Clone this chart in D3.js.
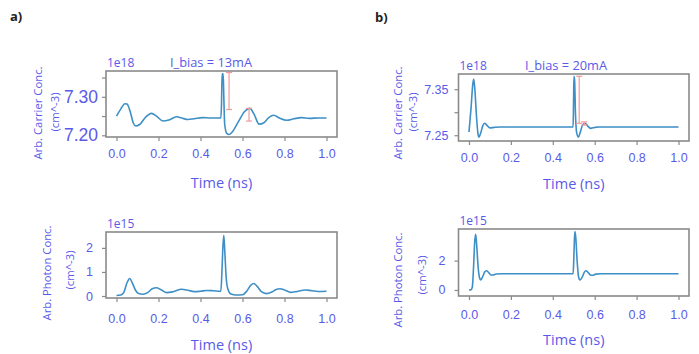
<!DOCTYPE html>
<html><head><meta charset="utf-8">
<script src="https://cdn.jsdelivr.net/npm/d3@7"></script>
<style>
body{margin:0;background:#fff;}
svg{display:block;font-family:"Open Sans",sans-serif;}
</style></head>
<body><svg id="c" width="699" height="354"></svg>
<script>
// ---- data ----
const timeTicks = [0, 0.2, 0.4, 0.6, 0.8, 1.0];
const carrier13Ticks = [7.20, 7.25, 7.30, 7.35];
const carrier13Labels = ["7.20", "", "7.30", ""];
const photon13Ticks = [0, 1, 2];
const carrier20Ticks = [7.25, 7.30, 7.35];
const carrier20Labels = ["7.25", "", "7.35"];
const photon20Ticks = [0, 2];

const carrier13 = [[0,7.250],[0.02,7.268],[0.04,7.282],[0.05,7.281],[0.065,7.262],[0.08,7.232],[0.092,7.224],[0.11,7.228],[0.14,7.248],[0.167,7.257],[0.19,7.250],[0.222,7.237],[0.25,7.240],[0.286,7.248],[0.31,7.245],[0.34,7.241],[0.37,7.243],[0.41,7.246],[0.45,7.245],[0.497,7.245],[0.5,7.28],[0.503,7.36],[0.508,7.36],[0.511,7.30],[0.515,7.23],[0.525,7.205],[0.536,7.202],[0.55,7.208],[0.58,7.235],[0.61,7.262],[0.635,7.270],[0.655,7.255],[0.679,7.229],[0.7,7.232],[0.725,7.246],[0.749,7.252],[0.775,7.245],[0.81,7.239],[0.845,7.243],[0.88,7.246],[0.92,7.244],[0.96,7.245],[1.0,7.245]];
const photon13 = [[0,0.02],[0.02,0.04],[0.035,0.15],[0.05,0.55],[0.063,0.73],[0.075,0.55],[0.09,0.25],[0.105,0.1],[0.127,0.07],[0.15,0.15],[0.17,0.3],[0.19,0.34],[0.21,0.27],[0.24,0.14],[0.27,0.18],[0.31,0.28],[0.34,0.24],[0.37,0.18],[0.4,0.2],[0.43,0.23],[0.46,0.22],[0.497,0.2],[0.502,1.0],[0.507,2.1],[0.511,2.52],[0.516,1.8],[0.522,0.8],[0.53,0.3],[0.545,0.08],[0.57,0.04],[0.6,0.05],[0.62,0.2],[0.64,0.45],[0.654,0.52],[0.67,0.4],[0.69,0.18],[0.714,0.1],[0.74,0.17],[0.76,0.27],[0.78,0.3],[0.8,0.25],[0.83,0.15],[0.86,0.19],[0.9,0.25],[0.93,0.22],[0.96,0.19],[1.0,0.2]];
const carrier20 = [[0,7.257],[0.01,7.31],[0.018,7.36],[0.0225,7.372],[0.028,7.35],[0.036,7.29],[0.043,7.253],[0.048,7.246],[0.056,7.255],[0.066,7.271],[0.075,7.276],[0.085,7.272],[0.1,7.266],[0.12,7.267],[0.15,7.268],[0.3,7.268],[0.497,7.268],[0.499,7.32],[0.501,7.378],[0.504,7.37],[0.508,7.30],[0.514,7.255],[0.522,7.246],[0.53,7.255],[0.542,7.272],[0.554,7.276],[0.565,7.271],[0.58,7.265],[0.6,7.267],[0.62,7.268],[1.0,7.268]];
const photon20 = [[0,0],[0.01,0.02],[0.016,0.2],[0.022,1.6],[0.027,3.2],[0.032,3.79],[0.037,3.0],[0.044,1.5],[0.05,0.85],[0.056,0.68],[0.065,0.9],[0.075,1.22],[0.083,1.31],[0.093,1.2],[0.105,1.02],[0.115,1.02],[0.13,1.09],[0.16,1.1],[0.497,1.1],[0.5,2.0],[0.503,3.4],[0.506,3.97],[0.51,3.5],[0.516,2.0],[0.523,0.9],[0.53,0.68],[0.54,0.85],[0.55,1.2],[0.558,1.31],[0.568,1.2],[0.58,1.02],[0.59,1.0],[0.605,1.08],[0.63,1.1],[1.0,1.1]];

const marks13 = [[0.536,7.267,7.363],[0.631,7.237,7.270]];
const marks20 = [[0.526,7.276,7.378],[0.55,7.272,7.279]];

// ---- drawing ----
const svg = d3.select("#c");
const txt = "#5a5ae8", line = "#3d8fc6", frame = "#8a8a8a", red = "#f29a9a";

function panel(o){
  const x = d3.scaleLinear().domain([-0.05,1.05]).range([o.x0,o.x1]);
  const y = d3.scaleLinear().domain(o.yd).range([o.y1,o.y0]);
  const g = svg.append("g");
  const xa = g.append("g").attr("transform",`translate(0,${o.y1})`)
    .call(d3.axisBottom(x).tickValues(timeTicks).tickFormat(d3.format(".1f")).tickSize(4).tickPadding(o.xpad));
  xa.select(".domain").remove();
  xa.selectAll("line").attr("stroke",frame).attr("stroke-width",1.2);
  xa.selectAll("text").attr("fill",txt).attr("font-size",12.5);
  const ya = g.append("g").attr("transform",`translate(${o.x0},0)`)
    .call(d3.axisLeft(y).tickValues(o.yt).tickFormat((d,i)=>o.yl[i]).tickSize(4).tickPadding(o.ypad));
  ya.select(".domain").remove();
  ya.selectAll("line").attr("stroke",frame).attr("stroke-width",1.2);
  ya.selectAll("text").attr("fill",txt).attr("font-size",o.yfs);
  g.append("path").datum(o.data).attr("fill","none").attr("stroke",line).attr("stroke-width",1.6)
    .attr("d", d3.line().x(d=>x(d[0])).y(d=>y(d[1])).curve(d3.curveMonotoneX));
  (o.marks||[]).forEach(m=>{
    const mg = g.append("g").attr("stroke",red).attr("stroke-width",1.2);
    mg.append("line").attr("x1",x(m[0])).attr("x2",x(m[0])).attr("y1",y(m[1])).attr("y2",y(m[2]));
    [m[1],m[2]].forEach(v=>mg.append("line").attr("x1",x(m[0])-3).attr("x2",x(m[0])+3).attr("y1",y(v)).attr("y2",y(v)));
  });
  g.append("rect").attr("x",o.x0).attr("y",o.y0).attr("width",o.x1-o.x0).attr("height",o.y1-o.y0)
    .attr("fill","none").attr("stroke",frame).attr("stroke-width",1.6);
  g.append("text").attr("x",o.x0+1).attr("y",o.y0-4).attr("fill",txt).attr("font-size",12).text(o.off);
  if(o.title) g.append("text").attr("x",o.tx).attr("y",o.y0-4).attr("fill",txt).attr("font-size",12.8).text(o.title);
  g.append("text").attr("transform",`translate(${o.l1x},${o.lcy}) rotate(-90)`).attr("text-anchor","middle")
    .attr("fill",txt).attr("font-size",11.3).text(o.lab);
  g.append("text").attr("transform",`translate(${o.l2x},${o.lcy2}) rotate(-90)`).attr("text-anchor","middle")
    .attr("fill",txt).attr("font-size",11.3).text("(cm^-3)");
  g.append("text").attr("x",(x(0)+x(1))/2).attr("y",o.xly).attr("text-anchor","middle")
    .attr("fill",txt).attr("font-size",14.5).text("Time (ns)");
}

panel({x0:106,x1:337,y0:71,y1:137,yd:[7.1956,7.367],yt:carrier13Ticks,yl:carrier13Labels,yfs:17.5,ypad:4,xpad:8,
  data:carrier13,marks:marks13,off:"1e18",title:"I_bias = 13mA",tx:170,lab:"Arb. Carrier Conc.",l1x:42,lcy:113,l2x:59,lcy2:112,xly:188});
panel({x0:106,x1:337,y0:232,y1:298,yd:[-0.083,2.66],yt:photon13Ticks,yl:["0","1","2"],yfs:12.5,ypad:9,xpad:12,
  data:photon13,off:"1e15",lab:"Arb. Photon Conc.",l1x:51,lcy:273,l2x:74,lcy2:270,xly:350});
panel({x0:458.5,x1:689,y0:74,y1:141,yd:[7.2375,7.383],yt:carrier20Ticks,yl:carrier20Labels,yfs:12.5,ypad:6,xpad:8,
  data:carrier20,marks:marks20,off:"1e18",title:"I_bias = 20mA",tx:525,lab:"Arb. Carrier Conc.",l1x:402,lcy:113,l2x:417,lcy2:112,xly:189});
panel({x0:458.5,x1:689,y0:229,y1:296,yd:[-0.41,4.15],yt:photon20Ticks,yl:["0","2"],yfs:12.5,ypad:9,xpad:10,
  data:photon20,off:"1e15",lab:"Arb. Photon Conc.",l1x:402,lcy:280,l2x:426,lcy2:275,xly:345});

svg.append("text").attr("x",10).attr("y",21).attr("font-size",13).attr("font-weight","bold").attr("fill","#222").text("a)");
svg.append("text").attr("x",375).attr("y",22).attr("font-size",13).attr("font-weight","bold").attr("fill","#222").text("b)");
</script></body></html>
